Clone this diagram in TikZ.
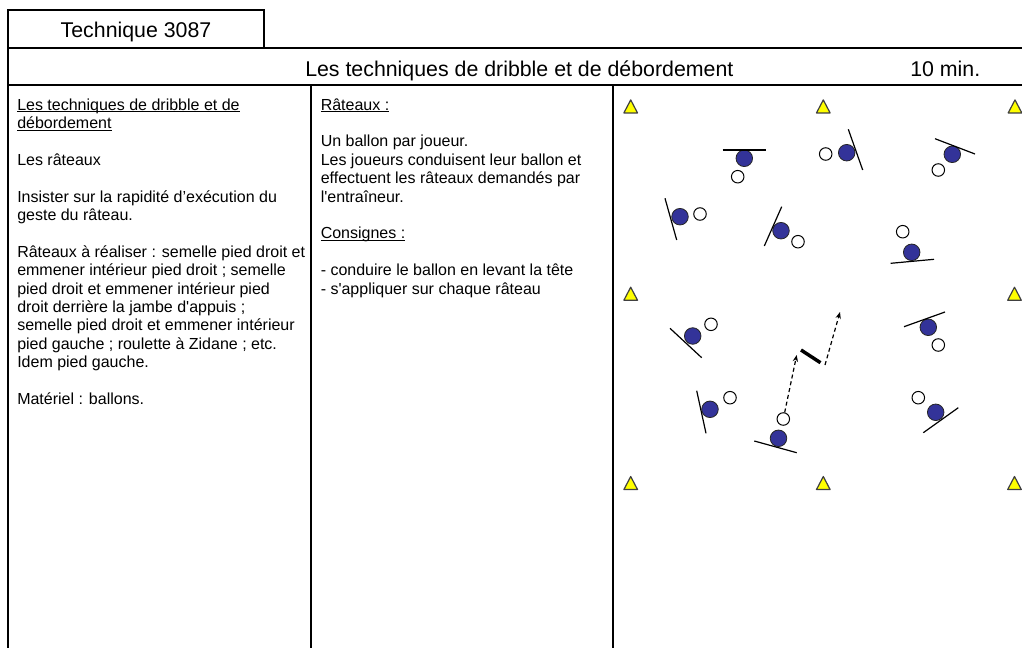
\documentclass[tikz,border=0pt]{standalone}
\usepackage{fontspec}
\setmainfont{Liberation Sans}
\usetikzlibrary{arrows.meta}
\definecolor{ballblue}{RGB}{51,51,153}
\definecolor{coneyellow}{RGB}{255,255,0}
\newcommand\myul[1]{\setbox0\hbox{#1}\rlap{\rule[-1.7pt]{\wd0}{0.75pt}}\box0}
\begin{document}
\begin{tikzpicture}[x=0.75pt,y=-0.75pt,
  frame/.style={line width=1.9pt, line cap=rect},
  body/.style={anchor=base west, inner sep=0pt, font=\fontsize{12pt}{13.8pt}\selectfont},
  headtxt/.style={inner sep=0pt, font=\fontsize{16pt}{19pt}\selectfont},
  player/.style={circle, fill=ballblue, draw=black!85, line width=0.6pt, minimum size=12.4pt, inner sep=0pt},
  ball/.style={circle, fill=white, draw=black, line width=0.75pt, minimum size=9.4pt, inner sep=0pt},
  stick/.style={line width=0.9pt},
  bar/.style={line width=2.6pt},
  run/.style={line width=0.9pt, dash pattern=on 3pt off 2.2pt, -{Stealth[length=5pt,width=4pt]}},
  cone/.pic={\draw[fill=coneyellow, draw=black!75, line width=0.9pt, line join=round] (-6.8,6.2) -- (0,-6.8) -- (6.8,6.2) -- cycle;}
]
\useasboundingbox (0,0) rectangle (1022,647);
\clip (0,0) rectangle (1022,647);
\fill[white] (0,0) rectangle (1022,647);

% frame
\draw[frame] (8,10) rectangle (264,48);
\draw[frame] (264,48) -- (1040,48);
\draw[frame] (8,48) -- (8,670);
\draw[frame] (8,85) -- (1040,85);
\draw[frame] (311,85) -- (311,670);
\draw[frame] (613,85) -- (613,670);

% header texts
\node[headtxt, anchor=base] (title) at (136,37) {Technique 3087};
\node[headtxt, anchor=base west] (theme) at (305,76) {Les techniques de dribble et de débordement};
\node[headtxt, anchor=base west] (duration) at (910,76) {10 min.};

% left column
\node[body] (l1) at (17,110) {\myul{Les techniques de dribble et de}};
\node[body] (l2) at (17,128.4) {\myul{débordement}};
\node[body] (l3) at (17,165.2) {Les râteaux};
\node[body] (l4) at (17,202) {Insister sur la rapidité d’exécution du};
\node[body] (l5) at (17,220.4) {geste du râteau.};
\node[body] (l6) at (17,257.2) {Râteaux à réaliser : semelle pied droit et};
\node[body] (l7) at (17,275.6) {emmener intérieur pied droit ; semelle};
\node[body] (l8) at (17,294) {pied droit et emmener intérieur pied};
\node[body] (l9) at (17,312.4) {droit derrière la jambe d\textquotesingle appuis ;};
\node[body] (l10) at (17,330.8) {semelle pied droit et emmener intérieur};
\node[body] (l11) at (17,349.2) {pied gauche ; roulette à Zidane ; etc.};
\node[body] (l12) at (17,367.6) {Idem pied gauche.};
\node[body] (l13) at (17,404.4) {Matériel : ballons.};

% middle column
\node[body] (m1) at (320.5,110) {\myul{Râteaux :}};
\node[body] (m2) at (320.5,146.8) {Un ballon par joueur.};
\node[body] (m3) at (320.5,165.2) {Les joueurs conduisent leur ballon et};
\node[body] (m4) at (320.5,183.6) {effectuent les râteaux demandés par};
\node[body] (m5) at (320.5,202) {l\textquotesingle entraîneur.};
\node[body] (m6) at (320.5,238.8) {\myul{Consignes :}};
\node[body] (m7) at (320.5,275.6) {- conduire le ballon en levant la tête};
\node[body] (m8) at (320.5,294) {- s\textquotesingle appliquer sur chaque râteau};

% cones
\pic (c1) at (630.7,106.7) {cone};
\pic (c2) at (823.3,106.7) {cone};
\pic (c3) at (1015,106.7) {cone};
\pic (c4) at (630.7,294) {cone};
\pic (c5) at (1014.5,294) {cone};
\pic (c6) at (630.7,483.3) {cone};
\pic (c7) at (823.3,483.3) {cone};
\pic (c8) at (1014.5,483.3) {cone};

% players with their balls
\node[player] (p1b) at (744.3,158.3) {};
\node[ball] (p1w) at (737.7,176.7) {};
\draw[stick] (722.7,150) -- (766,150);

\node[player] (p2b) at (846.7,152.7) {};
\node[ball] (p2w) at (825.7,154) {};
\draw[stick] (848.3,129.3) -- (862.7,170);

\node[player] (p3b) at (952.3,154.3) {};
\node[ball] (p3w) at (938.3,170) {};
\draw[stick] (935,138.7) -- (975,154);

\node[player] (p4b) at (680,216.7) {};
\node[ball] (p4w) at (700,214) {};
\draw[stick] (665,198.3) -- (676.7,240);

\node[player] (p5b) at (781,230.7) {};
\node[ball] (p5w) at (798,241.7) {};
\draw[stick] (781.7,206.7) -- (764.3,246);

\node[player] (p6b) at (911.7,252.3) {};
\node[ball] (p6w) at (902.7,231.7) {};
\draw[stick] (890.7,263.3) -- (934,259.3);

\node[player] (p7b) at (692.7,336) {};
\node[ball] (p7w) at (711,324.3) {};
\draw[stick] (670,328.3) -- (701.7,357.7);

\node[player] (p8b) at (710,409.3) {};
\node[ball] (p8w) at (730,397.7) {};
\draw[stick] (696.7,390.7) -- (706,433.3);

\node[player] (p9b) at (778.5,438.3) {};
\node[ball] (p9w) at (783.3,419) {};
\draw[stick] (754.3,441) -- (796.7,452.7);

\node[player] (p10b) at (928.3,327.3) {};
\node[ball] (p10w) at (938.3,345) {};
\draw[stick] (904,326.7) -- (945,312);

\node[player] (p11b) at (935.7,412.3) {};
\node[ball] (p11w) at (918.3,397.7) {};
\draw[stick] (923.3,432.7) -- (958.3,407.7);

% defender bar and runs
\coordinate (barA) at (801,350);
\coordinate (barB) at (820.5,362.7);
\draw[bar] (barA) -- (barB);
\coordinate (run1end) at (796.7,355);
\coordinate (run2start) at (825,365);
\coordinate (run2end) at (840,312);
\draw[run] (p9w) -- (run1end);
\draw[run] (run2start) -- (run2end);
\end{tikzpicture}
\end{document}
